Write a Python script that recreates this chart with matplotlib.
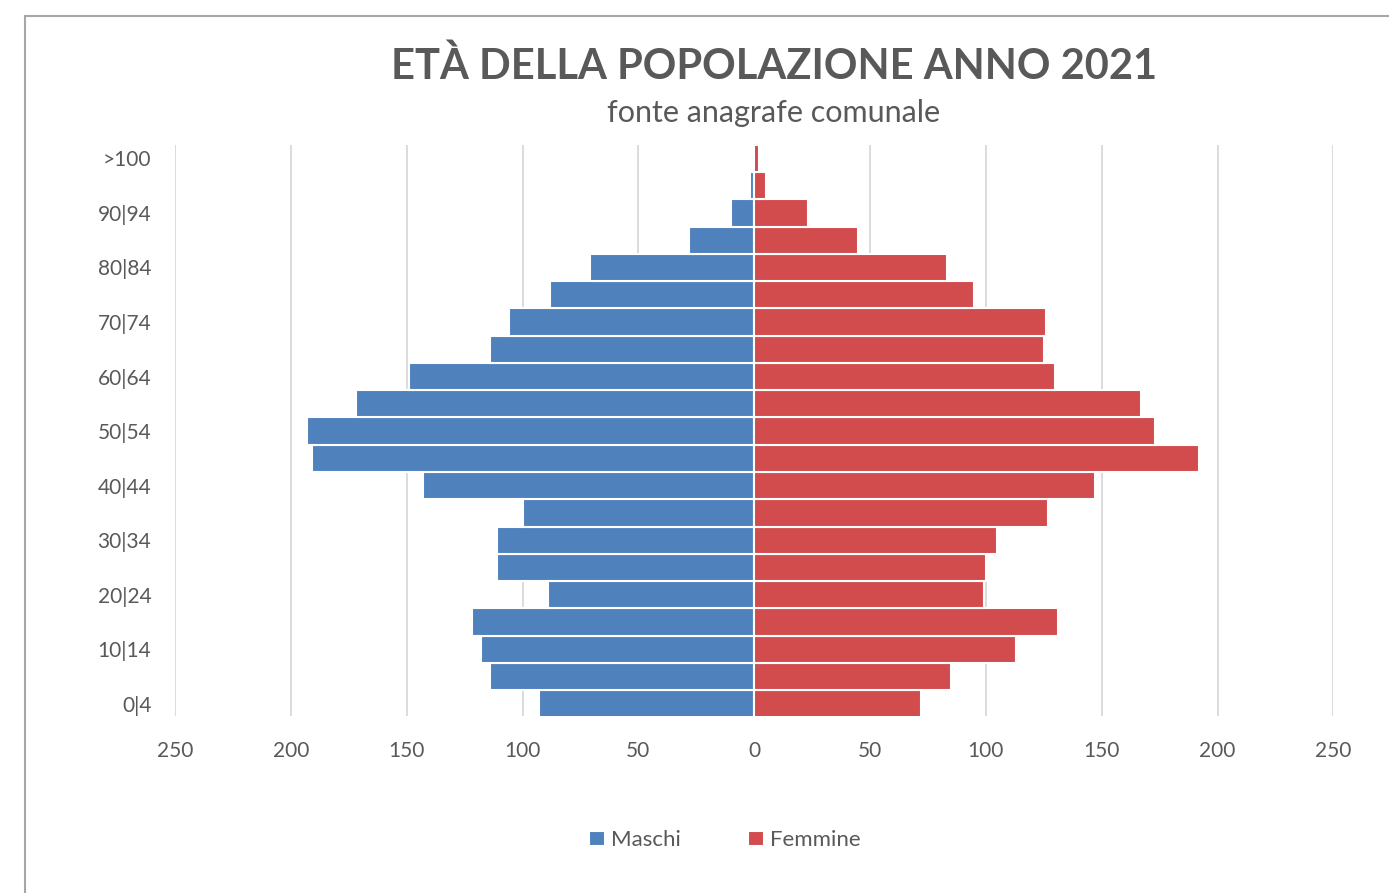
import numpy as np
import matplotlib.pyplot as plt
from matplotlib.patches import Rectangle

# fasce d'eta (dal basso verso l'alto)
fasce = ['0|4', '5|9', '10|14', '15|19', '20|24', '25|29', '30|34', '35|39',
         '40|44', '45|49', '50|54', '55|59', '60|64', '65|69', '70|74',
         '75|79', '80|84', '85|89', '90|94', '95|99', '>100']
maschi = [93, 114, 118, 122, 89, 111, 111, 100, 143, 191, 193, 172, 149,
          114, 106, 88, 71, 28, 10, 2, 0]
femmine = [72, 85, 113, 131, 99, 100, 105, 127, 147, 192, 173, 167, 130,
           125, 126, 95, 83, 45, 23, 5, 2]
xticks = [-250, -200, -150, -100, -50, 0, 50, 100, 150, 200, 250]

plt.rcParams['font.family'] = ['Lato', 'DejaVu Sans']
grigio = '#595959'
blu = '#4F81BD'
rosso = '#D24B4D'

fig = plt.figure(figsize=(13.89, 8.93), dpi=100)
ax = fig.add_axes([0.126, 0.198, 0.834, 0.640])

y = np.arange(len(fasce))
ax.barh(y, -np.array(maschi), height=1.0, color=blu, edgecolor='white', linewidth=1.5, label='Maschi', zorder=2)
ax.barh(y, femmine, height=1.0, color=rosso, edgecolor='white', linewidth=1.5, label='Femmine', zorder=2)

ax.set_xlim(-250, 250)
ax.set_ylim(-0.45, 20.5)
ax.set_xticks(xticks)
ax.set_xticklabels([str(abs(v)) for v in xticks])
ax.set_yticks(y[::2])
ax.set_yticklabels(fasce[::2])
ax.tick_params(axis='both', length=0, labelsize=15, colors=grigio)
ax.tick_params(axis='x', pad=18)
ax.tick_params(axis='y', pad=17)
ax.grid(axis='x', color='#d9d9d9', linewidth=1.3, zorder=0)
for s in ax.spines.values():
    s.set_visible(False)

fig.text(0.557, 0.926, 'ETÀ DELLA POPOLAZIONE ANNO 2021', ha='center', va='center',
         fontsize=30, fontweight='bold', color=grigio)
fig.text(0.557, 0.874, 'fonte anagrafe comunale', ha='center', va='center',
         fontsize=22, color=grigio)

fig.legend(loc='center', bbox_to_anchor=(0.522, 0.059), ncol=2, frameon=False,
           fontsize=16, labelcolor=grigio, handlelength=0.7, handleheight=0.7,
           handletextpad=0.3, columnspacing=3.0)

# cornice del grafico
fig.patches.append(Rectangle((25 / 1389, -0.1), 1.2, 1 - 16 / 893 + 0.1,
                             transform=fig.transFigure, fill=False,
                             edgecolor='#a6a6a6', linewidth=1.5))

fig.savefig('out.png', dpi=100)
